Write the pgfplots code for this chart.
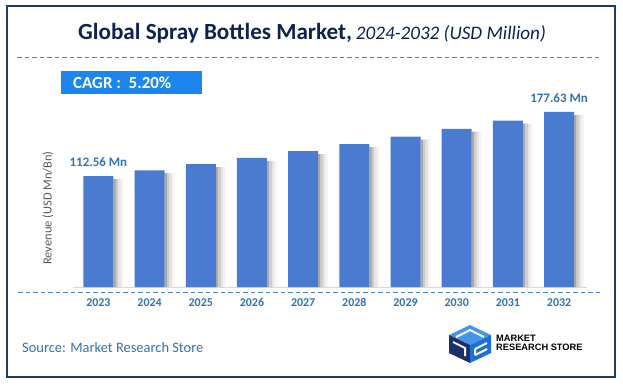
\documentclass[border=0pt]{standalone}
\usepackage{pgfplots}
\pgfplotsset{compat=1.18}
\usepackage{fontspec}
\setmainfont{Carlito}
\newfontfamily\logofont{Liberation Sans}
\definecolor{navyc}{RGB}{13,34,82}
\definecolor{framec}{RGB}{31,58,99}
\definecolor{dashc}{RGB}{79,129,199}
\definecolor{cagrc}{RGB}{28,134,238}
\definecolor{barc}{RGB}{74,123,208}
\definecolor{lblc}{RGB}{46,116,181}
\definecolor{ylabc}{RGB}{89,89,89}
\definecolor{axlc}{RGB}{217,217,217}
\definecolor{cubeA}{RGB}{27,47,107}
\definecolor{cubeB}{RGB}{30,111,217}
\definecolor{cubeC}{RGB}{70,150,232}
\pgfplotstableread{
x shadow
0 109.5
1 115.4
2 121.6
3 128.0
4 134.9
5 142.0
6 149.6
7 157.5
8 165.8
9 174.6
}\shadowtab
\pgfplotstableread{
x value
0 112.56
1 118.41
2 124.57
3 131.05
4 137.86
5 145.03
6 152.57
7 160.50
8 168.85
9 177.63
}\bartab
\begin{document}
\begin{tikzpicture}[x=1bp,y=1bp]
\path[fill=white] (0,0) rectangle (623,386);
\draw[framec, line width=1.3bp] (7,380) rectangle (615,9);
% title
\node[anchor=base west, inner sep=0pt, text=navyc] at (78,347)
  {{\fontsize{23.2}{27}\selectfont\bfseries Global Spray Bottles Market,}\hspace{0.4em}{\fontsize{19.2}{22}\selectfont\itshape 2024-2032 (USD Million)}};
\draw[dashc, line width=0.9bp, dash pattern=on 4.5bp off 3bp] (17,329) -- (602,329);
% CAGR box
\fill[cagrc] (61,315) rectangle (202,292);
\node[anchor=west, inner sep=0pt, text=white] at (73,303.5)
  {\fontsize{17}{20}\selectfont\bfseries CAGR :\ \ 5.20\%};
\begin{axis}[
  at={(72.8bp,99bp)}, anchor=south west,
  scale only axis, width=514.4bp, height=187.3bp,
  xmin=-0.5, xmax=9.55, ymin=0, ymax=190,
  axis y line=none, axis x line*=bottom,
  x axis line style={draw=axlc, line width=1bp, -},
  xtick={0,1,2,3,4,5,6,7,8,9},
  xticklabels={2023,2024,2025,2026,2027,2028,2029,2030,2031,2032},
  xtick style={draw=none},
  xticklabel style={font=\fontsize{12}{14}\selectfont\bfseries, text=lblc, yshift=-8bp},
  clip=false,
]
\addplot[ybar, bar width=2.5bp, bar shift=16.25bp, draw=none, fill=black!34] table[x=x,y=shadow] {\shadowtab};
\addplot[ybar, bar width=2.5bp, bar shift=18.75bp, draw=none, fill=black!20] table[x=x,y=shadow] {\shadowtab};
\addplot[ybar, bar width=2.5bp, bar shift=21.25bp, draw=none, fill=black!10] table[x=x,y=shadow] {\shadowtab};
\addplot[ybar, bar width=2.5bp, bar shift=23.75bp, draw=none, fill=black!4] table[x=x,y=shadow] {\shadowtab};
\addplot[ybar, bar width=30bp, bar shift=0bp, draw=none, fill=barc] table[x=x,y=value] {\bartab};
\node[text=lblc, font=\fontsize{13}{15}\selectfont\bfseries, yshift=14bp] at (axis cs:0,112.56) {112.56 Mn};
\node[text=lblc, font=\fontsize{13}{15}\selectfont\bfseries, yshift=14bp] at (axis cs:9,177.63) {177.63 Mn};
\end{axis}
\draw[dashc, line width=0.9bp, dash pattern=on 4.5bp off 3bp] (18,94) -- (602,94);
% y label
\node[rotate=90, text=ylabc, font=\fontsize{12.5}{15}\selectfont] at (48,178) {Revenue (USD Mn/Bn)};
% source
\node[anchor=west, inner sep=0pt, text=lblc, font=\fontsize{14.5}{17}\selectfont] at (22,38) {Source: Market Research Store};
% logo cube
\fill[cubeC] (470,61) -- (491,51) -- (470,41) -- (449,51) -- cycle;
\fill[cubeA] (449,51) -- (470,41) -- (470,23) -- (449,33) -- cycle;
\fill[cubeB] (470,41) -- (491,51) -- (491,33) -- (470,23) -- cycle;
\draw[white, line width=2bp] (456,49) -- (470,56) -- (484,49);
\draw[white, line width=2bp] (453,44) -- (465,38) -- (465,30);
\draw[white, line width=2bp] (475,37) -- (487,43) (475,31) -- (487,37) (475,37) -- (475,31);
\node[anchor=base west, inner sep=0pt, font=\logofont\bfseries\fontsize{9.3}{10}\selectfont] at (496,44.7) {MARKET};
\node[anchor=base west, inner sep=0pt, font=\logofont\bfseries\fontsize{9.3}{10}\selectfont] at (496,35.7) {RESEARCH STORE};
\end{tikzpicture}
\end{document}
